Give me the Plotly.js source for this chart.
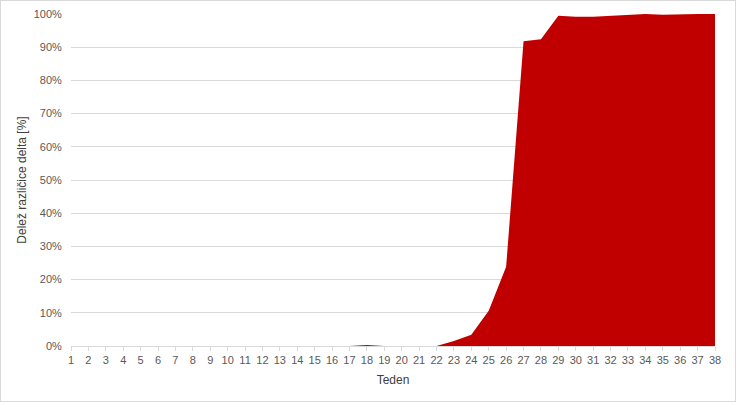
<!DOCTYPE html>
<html>
<head>
<meta charset="utf-8">
<script src="https://cdn.plot.ly/plotly-3.0.1.min.js"></script>
<style>
html,body{margin:0;padding:0;background:#fff;}
#wrap{position:relative;width:736px;height:402px;}
#chart{width:736px;height:402px;}
#frame{position:absolute;left:0;top:0;width:734px;height:400px;border:1px solid #D9D9D9;pointer-events:none;}
</style>
</head>
<body>
<div id="wrap"><div id="chart"></div><div id="frame"></div></div>
<script>
const weeks = [1,2,3,4,5,6,7,8,9,10,11,12,13,14,15,16,17,18,19,20,21,22,23,24,25,26,27,28,29,30,31,32,33,34,35,36,37,38];
const deltaShare = [0,0,0,0,0,0,0,0,0,0,0,0,0,0,0,0,0,0.3,0,0,0,0,1.5,3.4,10.6,23.9,91.8,92.4,99.5,99.2,99.2,99.4,99.6,100,99.8,100,100,100];
const yTicks = [0,10,20,30,40,50,60,70,80,90,100];
const yTickLabels = yTicks.map(v => v + '%');

const trace = {
  x: weeks,
  y: deltaShare,
  type: 'scatter',
  mode: 'lines',
  fill: 'tozeroy',
  fillcolor: '#C00000',
  line: {color: '#C00000', width: 0},
  hoverinfo: 'skip'
};

const layout = {
  width: 736, height: 402,
  margin: {l: 71, r: 21, t: 14, b: 56},
  paper_bgcolor: '#ffffff',
  plot_bgcolor: '#ffffff',
  showlegend: false,
  font: {family: 'Liberation Sans, Arial, sans-serif', size: 11, color: '#595959'},
  xaxis: {
    range: [1, 38],
    tickmode: 'array',
    tickvals: weeks,
    ticktext: weeks.map(String),
    ticks: 'outside',
    ticklen: 4,
    tickcolor: '#D9D9D9',
    showline: true,
    linecolor: '#D9D9D9',
    linewidth: 1,
    showgrid: false,
    zeroline: false,
    tickfont: {size: 11, color: '#595959'},
    title: {text: 'Teden', font: {size: 12, color: '#404040'}, standoff: 10}
  },
  yaxis: {
    range: [0, 100],
    tickmode: 'array',
    tickvals: yTicks,
    ticktext: yTickLabels,
    showgrid: true,
    gridcolor: '#D9D9D9',
    gridwidth: 1,
    zeroline: false,
    showline: false,
    ticks: 'outside',
    ticklen: 6,
    tickcolor: 'rgba(0,0,0,0)',
    tickfont: {size: 11, color: '#595959'},
    title: {text: 'Delež različice delta [%]', font: {size: 12, color: '#404040'}, standoff: 4}
  }
};

Plotly.newPlot('chart', [trace], layout, {displayModeBar: false, staticPlot: true});
</script>
</body>
</html>
